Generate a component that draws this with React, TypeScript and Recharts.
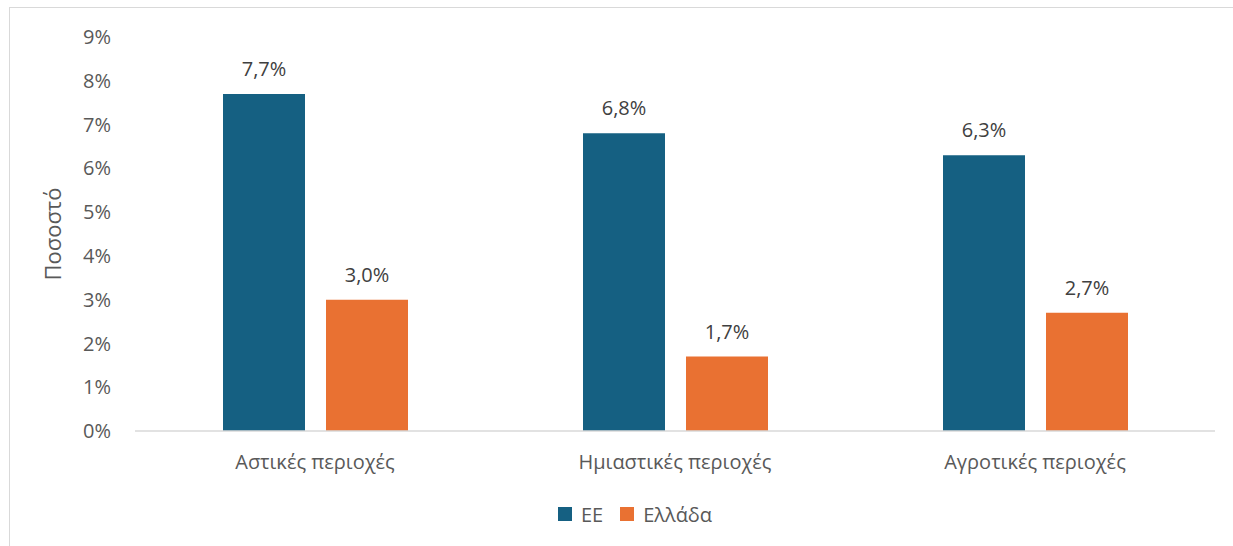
import React from 'react';
import { BarChart, Bar, XAxis, YAxis, Legend, LabelList } from 'recharts';

const categories = ['Αστικές περιοχές', 'Ημιαστικές περιοχές', 'Αγροτικές περιοχές'];
const euValues = [7.7, 6.8, 6.3];
const grValues = [3.0, 1.7, 2.7];
const yTicks = [0, 1, 2, 3, 4, 5, 6, 7, 8, 9];

const EU_COLOR = '#156082';
const GR_COLOR = '#E97132';
const FONT = '"Open Sans", sans-serif';

const data = categories.map((name, i) => ({ name, eu: euValues[i], gr: grValues[i] }));

const fmtPct = (v: any) => `${Number(v).toFixed(1).replace('.', ',')}%`;

const LegendBox = () => (
  <div style={{ height: 40, display: 'flex', justifyContent: 'center', alignItems: 'center', fontFamily: FONT, fontSize: 20, color: '#595959' }}>
    <span style={{ width: 14, height: 14, background: EU_COLOR, display: 'inline-block', marginRight: 9 }} />
    <span style={{ marginRight: 17 }}>ΕΕ</span>
    <span style={{ width: 14, height: 14, background: GR_COLOR, display: 'inline-block', marginRight: 9 }} />
    <span>Ελλάδα</span>
  </div>
);

export default function App() {
  return (
    <div style={{ position: 'absolute', left: 0, top: 0, width: 1233, height: 546, overflow: 'hidden', background: '#fff' }}>
      <div style={{ position: 'absolute', left: 9, top: 7, width: 1400, height: 700, border: '1px solid #d9d9d9' }} />
      <div style={{ position: 'absolute', left: 0, top: 0 }}>
        <BarChart
          width={1233}
          height={546}
          data={data}
          margin={{ top: 37, right: 18, bottom: 45, left: 55 }}
          barSize={82}
          barGap={21}
        >
          <XAxis
            dataKey="name"
            height={30}
            axisLine={{ stroke: '#d9d9d9', strokeWidth: 1.5 }}
            tickLine={false}
            tickSize={0}
            tickMargin={24}
            tick={{ fill: '#595959', fontSize: 20, fontFamily: FONT }}
          />
          <YAxis
            width={80}
            domain={[0, 9]}
            ticks={yTicks}
            interval={0}
            axisLine={false}
            tickLine={false}
            tickSize={0}
            tickMargin={24}
            tickFormatter={(v) => `${v}%`}
            tick={{ fill: '#595959', fontSize: 20, fontFamily: FONT }}
            label={{
              value: 'Ποσοστό',
              angle: -90,
              position: 'insideLeft',
              offset: -2,
              style: { textAnchor: 'middle', fill: '#595959', fontSize: 22, fontFamily: FONT },
            }}
          />
          <Legend verticalAlign="bottom" height={40} wrapperStyle={{ bottom: 12 }} content={() => <LegendBox />} />
          <Bar dataKey="eu" name="ΕΕ" fill={EU_COLOR} isAnimationActive={false}>
            <LabelList dataKey="eu" position="top" offset={18} formatter={fmtPct} style={{ fill: '#404040', fontSize: 20, fontFamily: FONT }} />
          </Bar>
          <Bar dataKey="gr" name="Ελλάδα" fill={GR_COLOR} isAnimationActive={false}>
            <LabelList dataKey="gr" position="top" offset={18} formatter={fmtPct} style={{ fill: '#404040', fontSize: 20, fontFamily: FONT }} />
          </Bar>
        </BarChart>
      </div>
    </div>
  );
}
